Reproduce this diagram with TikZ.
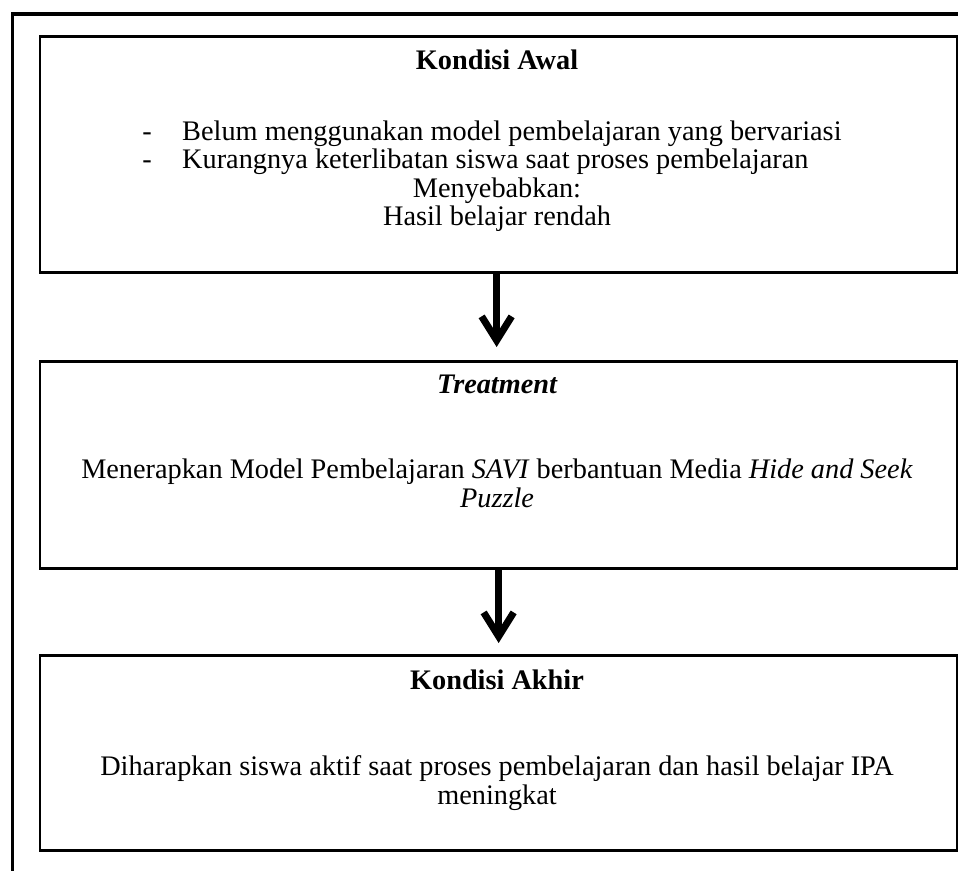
\documentclass[tikz,border=0pt]{standalone}
\usepackage{fontspec}
\setmainfont{Liberation Serif}
\usetikzlibrary{arrows.meta}
\begin{document}
\begin{tikzpicture}[x=1pt,y=-1pt,
  box/.style={draw, line width=2.8pt, minimum width=917.5pt, inner sep=0pt, anchor=north west},
  txt/.style={font=\fontsize{28.3}{31}\selectfont, inner sep=0pt, anchor=base},
  frame/.style={line width=3.5pt},
  arr/.style={line width=7pt, -{Straight Barb[length=24pt,width=30pt,line width=7pt]}}]
\useasboundingbox (0,0) rectangle (958,870);
\clip (0,0) rectangle (958,870);
\draw[frame] (12.5,1000) |- (1200,14);
% boxes
\node[box, minimum height=236pt] (b1) at (38.5,35) {};
\node[box, minimum height=207pt] (b2) at (38.5,360) {};
\node[box, minimum height=195pt] (b3) at (38.5,654) {};
% box 1 text
\node[txt] (t1) at (497,69) {\bfseries Kondisi Awal};
\node[txt] (d1) at (147,140) {-};
\node[txt, anchor=base west] (l1) at (182,140) {Belum menggunakan model pembelajaran yang bervariasi};
\node[txt] (d2) at (147,168) {-};
\node[txt, anchor=base west] (l2) at (182,168) {Kurangnya keterlibatan siswa saat proses pembelajaran};
\node[txt] (l3) at (497,197) {Menyebabkan:};
\node[txt] (l4) at (497,225) {Hasil belajar rendah};
% box 2 text
\node[txt] (t2) at (497,393) {\bfseries\itshape Treatment};
\node[txt] (m1) at (497,478) {Menerapkan Model Pembelajaran \textit{SAVI} berbantuan Media \textit{Hide and Seek}};
\node[txt] (m2) at (497,507) {\textit{Puzzle}};
% box 3 text
\node[txt] (t3) at (497,689) {\bfseries Kondisi Akhir};
\node[txt] (k1) at (497,775) {Diharapkan siswa aktif saat proses pembelajaran dan hasil belajar IPA};
\node[txt] (k2) at (497,804) {meningkat};
% arrows
\draw[arr] ([xshift=-2pt]b1.south) -- ([xshift=-2pt,yshift=13pt]b2.north);
\draw[arr] (b2.south) -- ([yshift=11pt]b3.north);
\end{tikzpicture}
\end{document}
